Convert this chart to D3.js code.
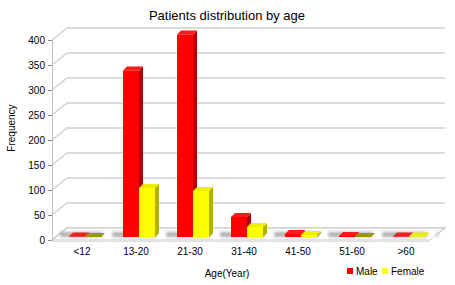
<!DOCTYPE html>
<html>
<head>
<meta charset="utf-8">
<script src="https://cdn.jsdelivr.net/npm/d3@7"></script>
<style>
  body { margin: 0; background: #fff; }
  text { font-family: "Liberation Sans", Arial, sans-serif; fill: #000; }
</style>
</head>
<body>
<svg id="chart" width="455" height="285"></svg>
<script>
// du lieu
const ageGroups = ["<12", "13-20", "21-30", "31-40", "41-50", "51-60", ">60"];
const series = ["Male", "Female"];
const maleCounts = [1, 333, 405, 40, 6, 2, 1];
const femaleCounts = [0, 98, 92, 20, 4, 0, 1];
const yTicks = [0, 50, 100, 150, 200, 250, 300, 350, 400];

const colors = {
  Male:   {front: "#ff0000", side: "#b00000", top: "#ff1a1a", flat: "#cc0000"},
  Female: {front: "#ffff00", side: "#b0b000", top: "#eeee00", flat: "#999900"}
};

const svg = d3.select("#chart");
const plot = {left: 52, right: 430, top: 40, bottom: 240};
const wall = {dx: 15, dy: -12};      // chieu sau cua nen
const barShift = {dx: 6, dy: -3};    // vi tri cot trong chieu sau
const barDepth = {dx: 4, dy: -4};    // do day cua cot

const x = d3.scaleBand().domain(ageGroups).range([plot.left, plot.right]);
const xs = d3.scaleBand().domain(series).range([0, 32]);
const y = d3.scaleLinear().domain([0, 400]).range([plot.bottom, plot.top]);

const rows = ageGroups.map((g, i) => ({group: g, Male: maleCounts[i], Female: femaleCounts[i]}));

const defs = svg.append("defs");
defs.append("filter").attr("id", "blur")
  .attr("x", "-20%").attr("y", "-100%").attr("width", "140%").attr("height", "300%")
  .append("feGaussianBlur").attr("stdDeviation", 1.6);

// Tieu de
svg.append("text")
  .attr("x", 227).attr("y", 20)
  .attr("text-anchor", "middle")
  .style("font-size", "13px")
  .text("Patients distribution by age");

// Luoi (tuong sau) + duong cheo
const grid = svg.append("g");
yTicks.forEach(t => {
  grid.append("path")
    .attr("d", `M${plot.left},${y(t)} L${plot.left + wall.dx},${y(t) + wall.dy} L${plot.right + wall.dx},${y(t) + wall.dy}`)
    .attr("fill", "none")
    .attr("stroke", "#cfcfcf")
    .attr("stroke-width", 1.3);
});

// Truc Y
const yAxis = svg.append("g")
  .attr("transform", `translate(${plot.left},0)`)
  .call(d3.axisLeft(y).tickValues(yTicks).tickSize(4).tickPadding(3));
yAxis.select(".domain").attr("stroke", "#c0c0c0");
yAxis.selectAll(".tick line").attr("stroke", "#888");
yAxis.selectAll("text").style("font-size", "10px").style("font-family", "Liberation Sans, Arial, sans-serif");

// Nen (floor)
const y0 = y(0);
svg.append("path")
  .attr("d", `M${plot.left},${y0} L${plot.left + wall.dx},${y0 + wall.dy} L${plot.right + wall.dx},${y0 + wall.dy} L${plot.right},${y0} Z`)
  .attr("fill", "#ffffff")
  .attr("stroke", "#c8c8c8")
  .attr("stroke-width", 1.2);
svg.append("line")
  .attr("x1", plot.left).attr("x2", plot.right)
  .attr("y1", y0 + 1.5).attr("y2", y0 + 1.5)
  .attr("stroke", "#e0e0e0");

// bong do tren nen
const shadows = svg.append("g").attr("filter", "url(#blur)");
shadows.append("rect")
  .attr("x", plot.left + 8).attr("y", y0 - 8)
  .attr("width", plot.right - plot.left).attr("height", 5)
  .attr("fill", "#b0b0b0");
rows.forEach(d => {
  shadows.append("rect")
    .attr("x", x(d.group) + 11 + barShift.dx + 34).attr("y", y0 - 9)
    .attr("width", 9).attr("height", 7)
    .attr("fill", "#ffffff");
});

// Cot 3D
const bars = svg.append("g");
rows.forEach(d => {
  series.forEach(s => {
    const v = d[s];
    const c = colors[s];
    const x0 = x(d.group) + (x.bandwidth() - 32) / 2 + barShift.dx + xs(s);
    const w = xs.bandwidth();
    const yb = y(0) + barShift.dy;
    const yt = y(v) + barShift.dy;
    const g = bars.append("g");
    if (v <= 0) {
      g.append("path")
        .attr("d", `M${x0},${yb} L${x0 + barDepth.dx},${yb + barDepth.dy} L${x0 + w + barDepth.dx},${yb + barDepth.dy} L${x0 + w},${yb} Z`)
        .attr("fill", c.flat);
      return;
    }
    // mat ben
    g.append("path")
      .attr("d", `M${x0 + w},${yb} L${x0 + w + barDepth.dx},${yb + barDepth.dy} L${x0 + w + barDepth.dx},${yt + barDepth.dy} L${x0 + w},${yt} Z`)
      .attr("fill", c.side);
    // mat tren
    g.append("path")
      .attr("d", `M${x0},${yt} L${x0 + barDepth.dx},${yt + barDepth.dy} L${x0 + w + barDepth.dx},${yt + barDepth.dy} L${x0 + w},${yt} Z`)
      .attr("fill", c.top);
    // mat truoc
    g.append("rect")
      .attr("x", x0).attr("y", yt)
      .attr("width", w).attr("height", yb - yt)
      .attr("fill", c.front);
  });
});

// Nhan truc X
svg.append("g").selectAll("text")
  .data(ageGroups)
  .enter().append("text")
    .attr("x", d => x(d) + x.bandwidth() / 2 + 3)
    .attr("y", 255)
    .attr("text-anchor", "middle")
    .style("font-size", "10px")
    .text(d => d);

// Ten truc
svg.append("text")
  .attr("x", 227).attr("y", 277)
  .attr("text-anchor", "middle")
  .style("font-size", "10px")
  .text("Age(Year)");

svg.append("text")
  .attr("transform", "translate(15,128) rotate(-90)")
  .attr("text-anchor", "middle")
  .style("font-size", "10px")
  .text("Frequency");

// Chu thich
const legend = svg.append("g");
const legendX = [347, 382];
series.forEach((s, i) => {
  legend.append("rect")
    .attr("x", legendX[i]).attr("y", 268)
    .attr("width", 6).attr("height", 6)
    .attr("fill", colors[s].front);
  legend.append("text")
    .attr("x", legendX[i] + 9).attr("y", 275)
    .style("font-size", "10px")
    .text(s);
});
</script>
</body>
</html>
